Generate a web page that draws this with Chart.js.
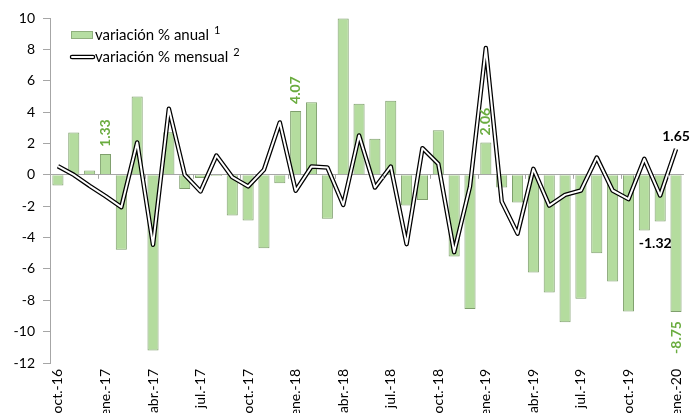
<!DOCTYPE html>
<html lang="es">
<head>
<meta charset="UTF-8">
<title>Variación % anual y mensual</title>
<script src="https://cdn.jsdelivr.net/npm/chart.js"></script>
<style>
    body { margin: 0; background: #ffffff; }
    .chart-box { position: relative; width: 699px; height: 413px; overflow: hidden; }
</style>
</head>
<body>
<div class="chart-box">
    <canvas id="chart"></canvas>
</div>
<script>
    // months oct-16 .. ene-20
    const meses = [
        'oct.-16', 'nov.-16', 'dic.-16', 'ene.-17', 'feb.-17', 'mar.-17', 'abr.-17', 'may.-17', 'jun.-17', 'jul.-17',
        'ago.-17', 'sep.-17', 'oct.-17', 'nov.-17', 'dic.-17', 'ene.-18', 'feb.-18', 'mar.-18', 'abr.-18', 'may.-18',
        'jun.-18', 'jul.-18', 'ago.-18', 'sep.-18', 'oct.-18', 'nov.-18', 'dic.-18', 'ene.-19', 'feb.-19', 'mar.-19',
        'abr.-19', 'may.-19', 'jun.-19', 'jul.-19', 'ago.-19', 'sep.-19', 'oct.-19', 'nov.-19', 'dic.-19', 'ene.-20'
    ];

    const variacionAnual = [
        -0.68, 2.70, 0.28, 1.33, -4.78, 4.99, -11.2, 2.72, -0.9, -0.2,
        -0.08, -2.6, -2.91, -4.68, -0.53, 4.07, 4.63, -2.8, 9.97, 4.53,
        2.3, 4.72, -1.96, -1.6, 2.85, -5.21, -8.55, 2.06, -0.81, -1.77,
        -6.23, -7.5, -9.4, -7.9, -5.0, -6.8, -8.72, -3.55, -2.98, -8.75
    ];

    const variacionMensual = [
        0.55, 0.0, -0.7, -1.36, -2.06, 2.06, -4.46, 4.21, 0.0, -1.06,
        1.23, -0.15, -0.74, 0.32, 3.34, -1.02, 0.53, 0.47, -1.92, 2.51,
        -0.81, 0.53, -4.42, 1.70, 0.70, -4.93, -0.74, 8.08, -1.70, -3.75,
        0.38, -1.96, -1.28, -1.0, 1.1, -1.0, -1.55, 1.02, -1.32, 1.65
    ];

    // which points get a value label
    const etiquetasAnual = [3, 15, 27, 39];
    const etiquetasMensual = [38, 39];

    const yTicks = { min: -12, max: 10, step: 2 };

    const FONT = 'Lato, "Open Sans", sans-serif';
    const GREEN_TEXT = '#6aac3f';
    const AXIS_GRAY = '#a6a6a6';

    // value labels, zero-line tick marks and the legend
    const extrasPlugin = {
        id: 'extras',
        afterDatasetsDraw(chart) {
            const { ctx, scales: { x, y } } = chart;
            const half = (x.getPixelForValue(1) - x.getPixelForValue(0)) / 2;
            const y0 = y.getPixelForValue(0);

            ctx.save();
            // small ticks on the zero line
            ctx.strokeStyle = AXIS_GRAY;
            ctx.lineWidth = 1;
            meses.forEach((m, i) => {
                if (i % 3 !== 0) return;
                const px = Math.round(x.getPixelForValue(i) - half) + 0.5;
                ctx.beginPath();
                ctx.moveTo(px, y0);
                ctx.lineTo(px, y0 + 4);
                ctx.stroke();
            });

            // green rotated labels for the annual bars
            ctx.font = 'bold 14px ' + FONT;
            ctx.fillStyle = GREEN_TEXT;
            ctx.textBaseline = 'middle';
            etiquetasAnual.forEach(i => {
                const v = variacionAnual[i];
                const px = x.getPixelForValue(i);
                const py = y.getPixelForValue(v);
                ctx.save();
                ctx.translate(px, v >= 0 ? py - 7 : py + 9);
                ctx.rotate(-Math.PI / 2);
                ctx.textAlign = v >= 0 ? 'left' : 'right';
                ctx.fillText(v.toFixed(2), 0, 0);
                ctx.restore();
            });

            // black labels for the monthly line
            ctx.fillStyle = '#000000';
            ctx.textAlign = 'center';
            etiquetasMensual.forEach(i => {
                const v = variacionMensual[i];
                const px = x.getPixelForValue(i);
                const py = y.getPixelForValue(v);
                if (v < 0) {
                    ctx.fillText(v.toFixed(2), px - 5, py + 48);
                } else {
                    ctx.fillText(v.toFixed(2), px, py - 12);
                }
            });

            // legend
            const lx = 71, ly = 35;
            ctx.fillStyle = '#b6dea2';
            ctx.fillRect(lx, ly - 4, 22, 8);
            ctx.strokeStyle = '#8fb07d';
            ctx.strokeRect(lx + 0.5, ly - 3.5, 21, 7);

            ctx.lineCap = 'round';
            ctx.strokeStyle = '#000000';
            ctx.lineWidth = 4.5;
            ctx.beginPath();
            ctx.moveTo(lx + 1, ly + 22);
            ctx.lineTo(lx + 22, ly + 22);
            ctx.stroke();
            ctx.strokeStyle = '#ffffff';
            ctx.lineWidth = 2;
            ctx.beginPath();
            ctx.moveTo(lx + 1, ly + 22);
            ctx.lineTo(lx + 22, ly + 22);
            ctx.stroke();

            ctx.fillStyle = '#000000';
            ctx.textAlign = 'left';
            ctx.font = '15px ' + FONT;
            const t1 = 'variación % anual';
            const t2 = 'variación % mensual';
            ctx.fillText(t1, lx + 24, ly);
            ctx.fillText(t2, lx + 24, ly + 22);
            const w1 = ctx.measureText(t1).width;
            const w2 = ctx.measureText(t2).width;
            ctx.font = '11px ' + FONT;
            ctx.fillText('1', lx + 24 + w1 + 5, ly - 5);
            ctx.fillText('2', lx + 24 + w2 + 5, ly + 17);
            ctx.restore();
        }
    };

    new Chart(document.getElementById('chart'), {
        type: 'bar',
        data: {
            labels: meses,
            datasets: [
                {
                    type: 'line',
                    label: 'variación % mensual',
                    data: variacionMensual,
                    borderColor: '#ffffff',
                    borderWidth: 2,
                    pointRadius: 0,
                    tension: 0,
                    borderJoinStyle: 'round',
                    order: 1
                },
                {
                    type: 'line',
                    label: 'variación % mensual (borde)',
                    data: variacionMensual,
                    borderColor: '#000000',
                    borderWidth: 4.5,
                    pointRadius: 0,
                    tension: 0,
                    borderJoinStyle: 'round',
                    order: 2
                },
                {
                    label: 'variación % anual',
                    data: variacionAnual,
                    backgroundColor: '#b4dc9e',
                    borderColor: '#7f9f6d',
                    borderWidth: 1,
                    categoryPercentage: 1.0,
                    barPercentage: 0.7,
                    order: 3
                }
            ]
        },
        options: {
            responsive: true,
            maintainAspectRatio: false,
            animation: false,
            layout: { padding: { top: 18, right: 14, left: 0, bottom: 0 } },
            plugins: {
                legend: { display: false },
                tooltip: { enabled: false }
            },
            scales: {
                x: {
                    afterFit: axis => { axis.height = 50; },
                    border: { display: false },
                    grid: { display: false, drawTicks: false },
                    ticks: {
                        autoSkip: false,
                        minRotation: 90,
                        maxRotation: 90,
                        padding: 6,
                        color: '#000000',
                        font: { family: FONT, size: 14 },
                        callback: (val, i) => (i % 3 === 0 ? meses[i] : '')
                    }
                },
                y: {
                    min: yTicks.min,
                    max: yTicks.max,
                    afterFit: axis => { axis.width = 50; },
                    border: { display: true, color: AXIS_GRAY },
                    grid: {
                        drawTicks: true,
                        tickLength: 7,
                        tickColor: AXIS_GRAY,
                        color: ctx => (ctx.tick && ctx.tick.value === 0 ? AXIS_GRAY : 'rgba(0,0,0,0)')
                    },
                    ticks: {
                        stepSize: yTicks.step,
                        padding: 8,
                        color: '#000000',
                        font: { family: FONT, size: 14 }
                    }
                }
            }
        },
        plugins: [extrasPlugin]
    });
</script>
</body>
</html>
